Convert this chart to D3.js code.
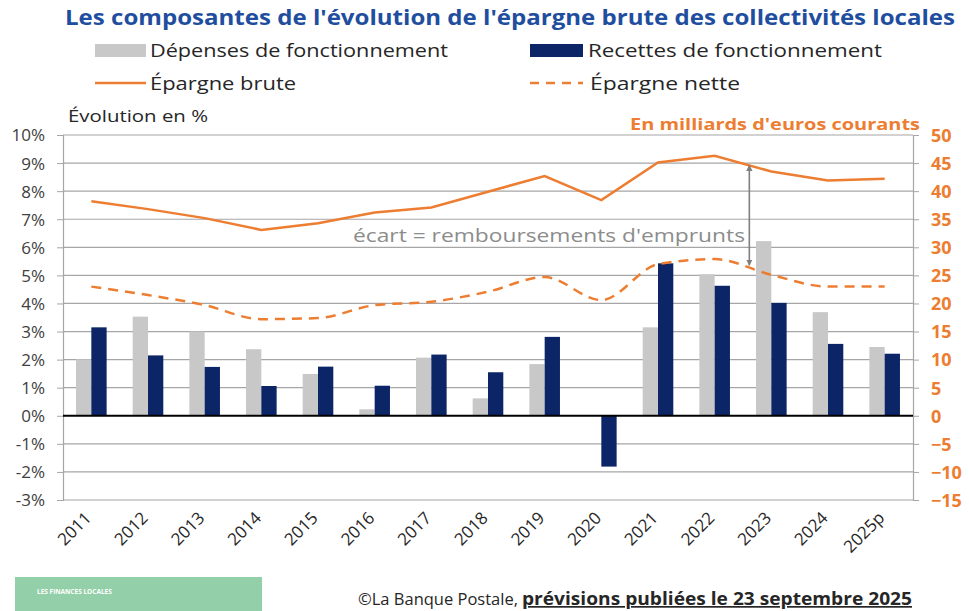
<!DOCTYPE html>
<html><head><meta charset="utf-8">
<script src="https://cdn.jsdelivr.net/npm/d3@7"></script>
<style>body{margin:0;background:#fff;} svg{display:block;font-family:"Open Sans",sans-serif;}</style>
</head><body>
<svg id="c" width="969" height="611"></svg>
<script>
const years = ["2011","2012","2013","2014","2015","2016","2017","2018","2019","2020","2021","2022","2023","2024","2025p"];
const depenses = [2.01,3.53,3.0,2.37,1.49,0.23,2.07,0.62,1.84,0,3.15,5.04,6.22,3.69,2.45];
const recettes = [3.15,2.15,1.74,1.06,1.75,1.07,2.18,1.55,2.81,-1.81,5.43,4.63,4.02,2.56,2.21];
const epargneBrute = [38.2,36.8,35.2,33.1,34.3,36.2,37.1,39.9,42.7,38.4,45.1,46.3,43.5,41.9,42.2];
const epargneNette = [23.0,21.5,19.7,17.2,17.4,19.7,20.3,22.1,24.7,20.6,27.0,27.9,25.1,23.0,23.0];
const leftTicks = [10,9,8,7,6,5,4,3,2,1,0,-1,-2,-3];
const rightTicks = [50,45,40,35,30,25,20,15,10,5,0,-5,-10,-15];

const svg = d3.select("#c");
const L = 63, R = 913, T = 135, B = 500;
const x = d3.scaleBand().domain(years).range([L, R]).paddingInner(0.46).paddingOuter(0.23);
const yL = d3.scaleLinear().domain([-3, 10]).range([B, T]);
const yR = d3.scaleLinear().domain([-15, 50]).range([B, T]);
const ORANGE = "#ed7d31", NAVY = "#0b2567", GREY = "#c8c8c8";

// title
svg.append("text").attr("x", 65).attr("y", 25).attr("textLength", 890).attr("lengthAdjust","spacingAndGlyphs")
  .attr("font-size", 21).attr("font-weight", 700).attr("fill", "#1f4e9f")
  .text("Les composantes de l'évolution de l'épargne brute des collectivités locales");

// legend
const lg = svg.append("g");
lg.append("rect").attr("x",95).attr("y",44).attr("width",51).attr("height",13).attr("fill",GREY);
lg.append("text").attr("x",150).attr("y",57).attr("font-size",19).attr("fill","#262626").attr("textLength",298).attr("lengthAdjust","spacingAndGlyphs").text("Dépenses de fonctionnement");
lg.append("rect").attr("x",530).attr("y",44).attr("width",53).attr("height",13).attr("fill",NAVY);
lg.append("text").attr("x",588).attr("y",57).attr("font-size",19).attr("fill","#262626").attr("textLength",294).attr("lengthAdjust","spacingAndGlyphs").text("Recettes de fonctionnement");
lg.append("line").attr("x1",95).attr("x2",146).attr("y1",83).attr("y2",83).attr("stroke",ORANGE).attr("stroke-width",2.5);
lg.append("text").attr("x",150).attr("y",90).attr("font-size",19).attr("fill","#262626").attr("textLength",146).attr("lengthAdjust","spacingAndGlyphs").text("Épargne brute");
lg.append("line").attr("x1",530).attr("x2",583).attr("y1",83).attr("y2",83).attr("stroke",ORANGE).attr("stroke-width",2.5).attr("stroke-dasharray","9,7");
lg.append("text").attr("x",590).attr("y",90).attr("font-size",19).attr("fill","#262626").attr("textLength",150).attr("lengthAdjust","spacingAndGlyphs").text("Épargne nette");

svg.append("text").attr("x",68).attr("y",122).attr("font-size",17).attr("fill","#262626").attr("textLength",140).attr("lengthAdjust","spacingAndGlyphs").text("Évolution en %");
svg.append("text").attr("x",920).attr("y",130).attr("text-anchor","end").attr("font-size",16).attr("font-weight",700).attr("fill",ORANGE).attr("textLength",290).attr("lengthAdjust","spacingAndGlyphs").text("En milliards d'euros courants");

// grid
svg.append("g").selectAll("line").data(leftTicks.filter(d=>d!==0)).join("line")
  .attr("x1",L).attr("x2",R).attr("y1",d=>yL(d)).attr("y2",d=>yL(d)).attr("stroke","#a6a6a6").attr("stroke-width",1.2);

// left axis
const ax = d3.axisLeft(yL).tickValues(leftTicks).tickFormat(d=>d+"%").tickSize(6).tickPadding(12);
const gL = svg.append("g").attr("transform",`translate(${L},0)`).call(ax);
gL.select(".domain").attr("stroke","#a6a6a6").attr("stroke-width",1.2);
gL.selectAll(".tick line").attr("stroke","#a6a6a6");
gL.selectAll("text").attr("font-size",17).attr("fill","#404040").attr("font-family","Open Sans").attr("dy","0.35em");

const axR = d3.axisRight(yR).tickValues(rightTicks).tickSize(6).tickPadding(12);
const gR = svg.append("g").attr("transform",`translate(${R},0)`).call(axR);
gR.select(".domain").attr("stroke","#a6a6a6").attr("stroke-width",1.2);
gR.selectAll(".tick line").attr("stroke","#a6a6a6");
gR.selectAll("text").attr("font-size",18).attr("font-weight",700).attr("fill",ORANGE).attr("font-family","Open Sans").attr("dy","0.35em");

// bars
const bw = x.bandwidth()/2;
svg.append("g").selectAll("rect").data(depenses).join("rect")
  .attr("x",(d,i)=>x(years[i])).attr("width",bw)
  .attr("y",d=>yL(Math.max(0,d))).attr("height",d=>Math.abs(yL(d)-yL(0))).attr("fill",GREY);
svg.append("g").selectAll("rect").data(recettes).join("rect")
  .attr("x",(d,i)=>x(years[i])+bw).attr("width",bw)
  .attr("y",d=>yL(Math.max(0,d))).attr("height",d=>Math.abs(yL(d)-yL(0))).attr("fill",NAVY);

// zero line
svg.append("line").attr("x1",L).attr("x2",R).attr("y1",yL(0)).attr("y2",yL(0)).attr("stroke","#000").attr("stroke-width",2);

// lines
const cx = i => x(years[i]) + x.bandwidth()/2;
const line = d3.line().x((d,i)=>cx(i)).y(d=>yR(d));
svg.append("path").attr("d",line(epargneBrute)).attr("fill","none").attr("stroke",ORANGE).attr("stroke-width",2.5);
svg.append("path").attr("d",line.curve(d3.curveMonotoneX)(epargneNette)).attr("fill","none").attr("stroke",ORANGE).attr("stroke-width",2.5).attr("stroke-dasharray","10,7");

// annotation
const defs = svg.append("defs");
defs.append("marker").attr("id","ah").attr("viewBox","0 0 10 10").attr("refX",9).attr("refY",5)
  .attr("markerWidth",4).attr("markerHeight",4).attr("orient","auto-start-reverse")
  .append("path").attr("d","M0,0L10,5L0,10z").attr("fill","#7f7f7f");
const ax0 = cx(12) - 22;
svg.append("line").attr("x1",ax0).attr("x2",ax0).attr("y1",yR(44.6)).attr("y2",yR(26.8))
  .attr("stroke","#7f7f7f").attr("stroke-width",1.6).attr("marker-start","url(#ah)").attr("marker-end","url(#ah)");
svg.append("text").attr("x",353).attr("y",242).attr("font-size",19).attr("fill","#8c8c8c").attr("textLength",392).attr("lengthAdjust","spacingAndGlyphs").text("écart = remboursements d'emprunts");

// x labels
svg.append("g").selectAll("text").data(years).join("text")
  .attr("transform",(d,i)=>`translate(${cx(i)+1},${519}) rotate(-45)`)
  .attr("text-anchor","end").attr("font-size",17).attr("fill","#262626").text(d=>d);

// footer
svg.append("rect").attr("x",15).attr("y",577).attr("width",247).attr("height",34).attr("fill","#93cfa8");
svg.append("text").attr("x",37).attr("y",594).attr("font-size",6.5).attr("font-weight",700).attr("fill","#ffffff").text("LES FINANCES LOCALES");
svg.append("text").attr("x",358).attr("y",605).attr("font-size",17).attr("fill","#262626")
  .attr("textLength",160).attr("lengthAdjust","spacingAndGlyphs").text("©La Banque Postale,");
svg.append("text").attr("x",522).attr("y",605).attr("font-size",17).attr("fill","#262626").attr("font-weight",700)
  .attr("text-decoration","underline").attr("textLength",390).attr("lengthAdjust","spacingAndGlyphs")
  .text("prévisions publiées le 23 septembre 2025");
</script>
</body></html>
